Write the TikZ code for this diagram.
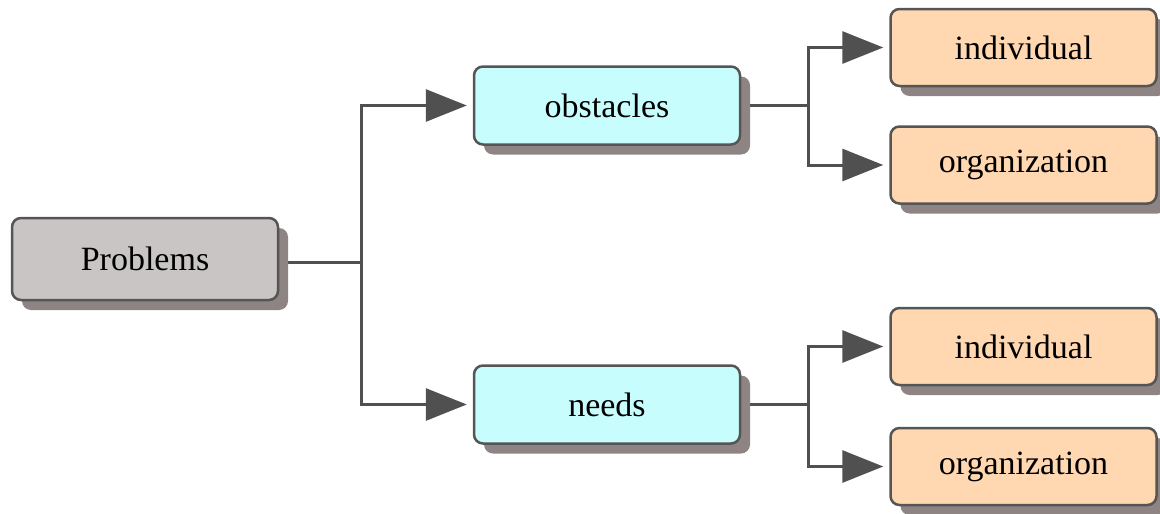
\documentclass[tikz,border=0pt]{standalone}
\usepackage{fontspec}
\setmainfont{Liberation Serif}
\usetikzlibrary{shadows,arrows.meta,backgrounds}
\definecolor{bordc}{HTML}{555555}
\definecolor{linec}{HTML}{505050}
\definecolor{shadc}{HTML}{8E8484}
\definecolor{grayf}{HTML}{C9C5C5}
\definecolor{cyanf}{HTML}{C8FDFD}
\definecolor{orangef}{HTML}{FFD8B2}
\tikzset{
  box/.style={draw=bordc, line width=2.5pt, rounded corners=9pt, minimum width=266pt,
    inner sep=0pt, font=\fontsize{34}{40}\selectfont,
    drop shadow={shadow xshift=10pt, shadow yshift=-10pt, fill=shadc, opacity=1}},
  rootbox/.style={box, fill=grayf, minimum height=82pt},
  midbox/.style={box, fill=cyanf, minimum height=78pt},
  leafbox/.style={box, fill=orangef, minimum height=77pt},
  conn/.style={draw=linec, line width=3pt},
  arr/.style={conn, -{Triangle[length=41pt,width=32pt]}, shorten >=6pt},
}
\begin{document}
\begin{tikzpicture}[x=1pt,y=-1pt]
\useasboundingbox (0,0) rectangle (1160,514);
\node[rootbox] (P) at (145,259) {Problems};
\node[midbox] (obs) at (607,105.5) {obstacles};
\node[midbox] (needs) at (607,404.5) {needs};
\node[leafbox] (i1) at (1023.5,47.5) {individual};
\node[leafbox] (o1) at (1023.5,165) {organization};
\node[leafbox] (i2) at (1023.5,346.5) {individual};
\node[leafbox] (o2) at (1023.5,466.5) {organization};
\coordinate (j0) at (361,262);
\coordinate (j1) at (808,105.5);
\coordinate (j2) at (808,404.5);
\begin{pgfonlayer}{background}
\draw[conn] (P.east |- j0) -- (j0);
\draw[arr] (j0) |- (obs.west);
\draw[arr] (j0) |- (needs.west);
\draw[conn] (obs.east) -- (j1);
\draw[arr] (j1) |- (i1.west);
\draw[arr] (j1) |- (o1.west);
\draw[conn] (needs.east) -- (j2);
\draw[arr] (j2) |- (i2.west);
\draw[arr] (j2) |- (o2.west);
\end{pgfonlayer}
\end{tikzpicture}
\end{document}
